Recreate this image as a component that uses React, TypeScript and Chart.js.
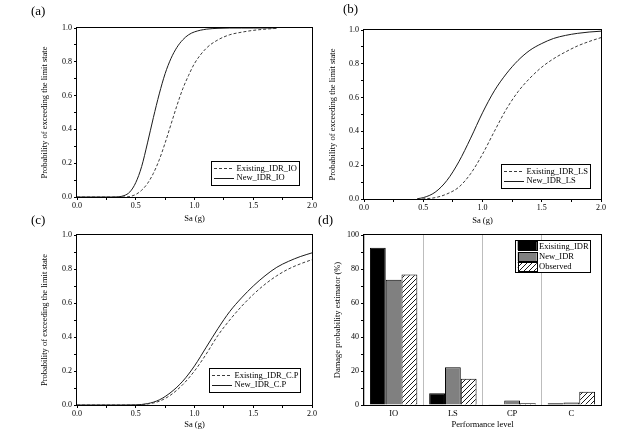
import React, { useEffect, useRef } from 'react';
import { Chart, registerables } from 'chart.js';

Chart.register(...registerables);

const FONT = "'Liberation Serif', 'Times New Roman', serif";
const W = 631;
const H = 433;

// ---------- data ----------
const saA = [0, 0.3, 0.35, 0.4, 0.45, 0.5, 0.55, 0.6, 0.65, 0.7, 0.75, 0.8, 0.85, 0.9, 0.95, 1.0, 1.1, 1.2, 1.3, 1.4, 1.5, 1.6, 1.7];
const existingIO = [0, 0, 0, 0, 0.003, 0.015, 0.04, 0.08, 0.14, 0.22, 0.32, 0.43, 0.54, 0.64, 0.72, 0.79, 0.88, 0.93, 0.96, 0.975, 0.986, 0.993, 0.998];
const newIO = [0, 0, 0.001, 0.008, 0.03, 0.085, 0.18, 0.32, 0.47, 0.61, 0.73, 0.82, 0.885, 0.93, 0.96, 0.977, 0.993, 0.998, 1.0, 1.0, 1.0, 1.0, 1.0];

const saB = [0.45, 0.5, 0.6, 0.7, 0.8, 0.9, 1.0, 1.1, 1.2, 1.3, 1.4, 1.5, 1.6, 1.7, 1.8, 1.9, 2.0];
const existingLS = [0, 0.001, 0.008, 0.03, 0.07, 0.15, 0.265, 0.4, 0.53, 0.635, 0.715, 0.78, 0.83, 0.87, 0.905, 0.932, 0.955];
const newLS = [0.002, 0.008, 0.04, 0.11, 0.22, 0.36, 0.51, 0.64, 0.74, 0.82, 0.88, 0.92, 0.95, 0.968, 0.98, 0.988, 0.993];

const saC = [0, 0.4, 0.5, 0.6, 0.7, 0.8, 0.9, 1.0, 1.1, 1.2, 1.3, 1.4, 1.5, 1.6, 1.7, 1.8, 1.9, 2.0];
const existingCP = [0, 0, 0, 0.006, 0.022, 0.06, 0.12, 0.2, 0.3, 0.41, 0.5, 0.58, 0.65, 0.71, 0.76, 0.8, 0.83, 0.855];
const newCP = [0, 0, 0.001, 0.008, 0.03, 0.075, 0.14, 0.23, 0.34, 0.45, 0.55, 0.63, 0.7, 0.76, 0.81, 0.845, 0.873, 0.895];

const levels = ['IO', 'LS', 'CP', 'C'];
const existingIDR = [92.5, 6.9, 0.4, 1.0];
const newIDR = [73.7, 22.2, 2.7, 1.5];
const observed = [76.7, 15.5, 1.0, 7.8];

const labelsA = ['Existing_IDR_IO', 'New_IDR_IO'];
const labelsB = ['Existing_IDR_LS', 'New_IDR_LS'];
const labelsC = ['Existing_IDR_C.P', 'New_IDR_C.P'];
const labelsD = ['Exisiting_IDR', 'New_IDR', 'Observed'];

// ---------- plugins ----------
const framePlugin = {
  id: 'frame',
  afterDraw(chart: any) {
    const { ctx, chartArea: a } = chart;
    ctx.save();
    ctx.strokeStyle = '#000';
    ctx.lineWidth = 1;
    ctx.strokeRect(Math.round(a.left) - 0.5, Math.round(a.top) - 0.5, Math.round(a.right - a.left) + 1, Math.round(a.bottom - a.top) + 1);
    ctx.restore();
  },
};

const boxLegend = {
  id: 'boxLegend',
  afterDraw(chart: any, _args: any, o: any) {
    if (!o || !o.display) return;
    const { ctx, chartArea: a } = chart;
    const ds = chart.data.datasets;
    ctx.save();
    ctx.font = `${o.fontSize}px ${FONT}`;
    const tw = Math.max(...ds.map((d: any) => ctx.measureText(d.label).width));
    const w = o.padL + o.sample + o.gap + tw + o.padR;
    const h = o.padY * 2 + ds.length * o.row;
    const x = Math.round(a.right - o.right - w);
    const y = Math.round(o.top != null ? a.top + o.top : a.bottom - o.bottom - h);
    ctx.fillStyle = '#fff';
    ctx.fillRect(x, y, w, h);
    ctx.strokeStyle = '#000';
    ctx.lineWidth = 1;
    ctx.strokeRect(x + 0.5, y + 0.5, Math.round(w), Math.round(h));
    ds.forEach((d: any, i: number) => {
      const cy = y + o.padY + o.row * (i + 0.5);
      const sx = x + o.padL;
      if (o.kind === 'line') {
        ctx.beginPath();
        ctx.setLineDash(d.borderDash || []);
        ctx.strokeStyle = d.borderColor;
        ctx.lineWidth = 1;
        ctx.moveTo(sx, Math.round(cy) + 0.5);
        ctx.lineTo(sx + o.sample, Math.round(cy) + 0.5);
        ctx.stroke();
        ctx.setLineDash([]);
      } else {
        const top = Math.round(cy - o.swH / 2);
        ctx.fillStyle = d.backgroundColor;
        ctx.fillRect(sx, top, o.sample, o.swH);
        ctx.strokeStyle = '#000';
        ctx.strokeRect(Math.round(sx) + 0.5, top + 0.5, o.sample, o.swH);
      }
      ctx.fillStyle = '#000';
      ctx.textBaseline = 'middle';
      ctx.textAlign = 'left';
      ctx.fillText(d.label, sx + o.sample + o.gap, cy + 0.5);
    });
    ctx.restore();
  },
};

// ---------- helpers ----------
type Area = { left: number; top: number; right: number; bottom: number; yW: number; xH: number };

function layoutFor(ar: Area) {
  return {
    padding: {
      left: ar.left - ar.yW,
      top: ar.top,
      right: W - ar.right,
      bottom: H - ar.bottom - ar.xH,
    },
  };
}

function isMultiple(v: number, step: number) {
  return Math.abs(v / step - Math.round(v / step)) < 1e-6;
}

function yScale(ar: Area, title: string, max: number, step: number, major: number, fmt: (v: number) => string) {
  return {
    min: 0,
    max,
    afterFit: (s: any) => {
      s.width = ar.yW;
    },
    border: { display: false },
    grid: { drawOnChartArea: false, drawTicks: true, tickLength: 3, color: '#000', tickColor: '#000' },
    ticks: {
      stepSize: step,
      autoSkip: false,
      padding: 2,
      color: '#000',
      font: { family: FONT, size: 8 },
      callback: (v: number) => (isMultiple(v, major) ? fmt(v) : ''),
    },
    title: { display: true, text: title, color: '#000', padding: { top: 0, bottom: 0 }, font: { family: FONT, size: 8.5 } },
  };
}

function lineConfig(ar: Area, sa: number[], ex: number[], nw: number[], labels: string[], legendPos: any) {
  return {
    type: 'line',
    data: {
      datasets: [
        {
          label: labels[0],
          data: sa.map((x, i) => ({ x, y: ex[i] })),
          borderColor: '#3c3c3c',
          borderDash: [3, 2],
          borderWidth: 1,
          pointRadius: 0,
          fill: false,
          cubicInterpolationMode: 'monotone',
        },
        {
          label: labels[1],
          data: sa.map((x, i) => ({ x, y: nw[i] })),
          borderColor: '#1a1a1a',
          borderWidth: 1,
          pointRadius: 0,
          fill: false,
          cubicInterpolationMode: 'monotone',
        },
      ],
    },
    options: {
      animation: false,
      responsive: false,
      layout: layoutFor(ar),
      plugins: {
        legend: { display: false },
        tooltip: { enabled: false },
        boxLegend: { display: true, kind: 'line', fontSize: 8.5, padL: 3, padR: 2, sample: 20, gap: 2.5, padY: 2.7, row: 9.3, ...legendPos },
      },
      scales: {
        x: {
          type: 'linear',
          min: 0,
          max: 2,
          afterFit: (s: any) => {
            s.height = ar.xH;
          },
          border: { display: false },
          grid: { drawOnChartArea: false, drawTicks: true, tickLength: 3, color: '#000', tickColor: '#000' },
          ticks: {
            stepSize: 0.25,
            autoSkip: false,
            maxRotation: 0,
            padding: 1,
            color: '#000',
            font: { family: FONT, size: 8 },
            callback: (v: number) => (isMultiple(v, 0.5) ? v.toFixed(1) : ''),
          },
          title: { display: true, text: 'Sa (g)', color: '#000', padding: { top: 0, bottom: 0 }, font: { family: FONT, size: 8.5 } },
        },
        y: yScale(ar, 'Probability of exceeding the limit state', 1, 0.1, 0.2, (v) => v.toFixed(1)),
      },
    },
    plugins: [framePlugin, boxLegend],
  };
}

function makeHatch() {
  const s = 5;
  const c = document.createElement('canvas');
  c.width = s;
  c.height = s;
  const g = c.getContext('2d') as CanvasRenderingContext2D;
  g.fillStyle = '#fff';
  g.fillRect(0, 0, s, s);
  g.strokeStyle = '#000';
  g.lineWidth = 0.9;
  g.beginPath();
  g.moveTo(0, s);
  g.lineTo(s, 0);
  g.moveTo(-1, 1);
  g.lineTo(1, -1);
  g.moveTo(s - 1, s + 1);
  g.lineTo(s + 1, s - 1);
  g.stroke();
  return g.createPattern(c, 'repeat');
}

function barConfig(ar: Area) {
  const hatch = makeHatch();
  return {
    type: 'bar',
    data: {
      labels: levels,
      datasets: [
        { label: labelsD[0], data: existingIDR, backgroundColor: '#000', borderColor: '#000', borderWidth: 1 },
        { label: labelsD[1], data: newIDR, backgroundColor: '#808080', borderColor: '#000', borderWidth: 1 },
        { label: labelsD[2], data: observed, backgroundColor: hatch, borderColor: '#000', borderWidth: 1 },
      ],
    },
    options: {
      animation: false,
      responsive: false,
      layout: layoutFor(ar),
      datasets: { bar: { categoryPercentage: 0.8, barPercentage: 1.0 } },
      plugins: {
        legend: { display: false },
        tooltip: { enabled: false },
        boxLegend: { display: true, kind: 'box', fontSize: 8.5, padL: 2.7, padR: 1.5, sample: 19, gap: 2.3, padY: 0.7, row: 10.3, swH: 9, right: 11, top: 5 },
      },
      scales: {
        x: {
          afterFit: (s: any) => {
            s.height = ar.xH;
          },
          border: { display: false },
          grid: { offset: true, drawOnChartArea: true, drawTicks: false, color: '#bdbdbd', lineWidth: 1 },
          ticks: { padding: 4, color: '#000', font: { family: FONT, size: 8.5 } },
          title: { display: true, text: 'Performance level', color: '#000', padding: { top: 0, bottom: 0 }, font: { family: FONT, size: 8.5 } },
        },
        y: yScale(ar, 'Damage probability estimator (%)', 100, 10, 20, (v) => String(Math.round(v))),
      },
    },
    plugins: [framePlugin, boxLegend],
  };
}

const areaA: Area = { left: 77, top: 28, right: 312, bottom: 197, yW: 37, xH: 27 };
const areaB: Area = { left: 364, top: 30, right: 601, bottom: 199, yW: 36, xH: 27 };
const areaC: Area = { left: 77, top: 235, right: 312, bottom: 405, yW: 37, xH: 25 };
const areaD: Area = { left: 364, top: 235, right: 601, bottom: 405, yW: 31, xH: 25 };

function Panel({ make }: { make: () => any }) {
  const ref = useRef<HTMLCanvasElement | null>(null);
  useEffect(() => {
    if (!ref.current) return;
    const chart = new Chart(ref.current, make());
    return () => chart.destroy();
  }, []);
  return <canvas ref={ref} width={W} height={H} style={{ position: 'absolute', left: 0, top: 0, width: W, height: H }} />;
}

const lblStyle = (left: number, top: number): React.CSSProperties => ({
  position: 'absolute',
  left,
  top,
  fontFamily: FONT,
  fontSize: 13,
  lineHeight: '15px',
  color: '#000',
});

export default function App() {
  return (
    <div style={{ position: 'fixed', left: 0, top: 0, width: W, height: H, background: '#fff', overflow: 'hidden' }}>
      <Panel make={() => lineConfig(areaA, saA, existingIO, newIO, labelsA, { right: 13, bottom: 12 })} />
      <Panel make={() => lineConfig(areaB, saB, existingLS, newLS, labelsB, { right: 11.5, bottom: 11 })} />
      <Panel make={() => lineConfig(areaC, saC, existingCP, newCP, labelsC, { right: 11.5, bottom: 13 })} />
      <Panel make={() => barConfig(areaD)} />
      <span style={lblStyle(31, 3)}>(a)</span>
      <span style={lblStyle(343, 1)}>(b)</span>
      <span style={lblStyle(31, 212)}>(c)</span>
      <span style={lblStyle(318, 212)}>(d)</span>
    </div>
  );
}
